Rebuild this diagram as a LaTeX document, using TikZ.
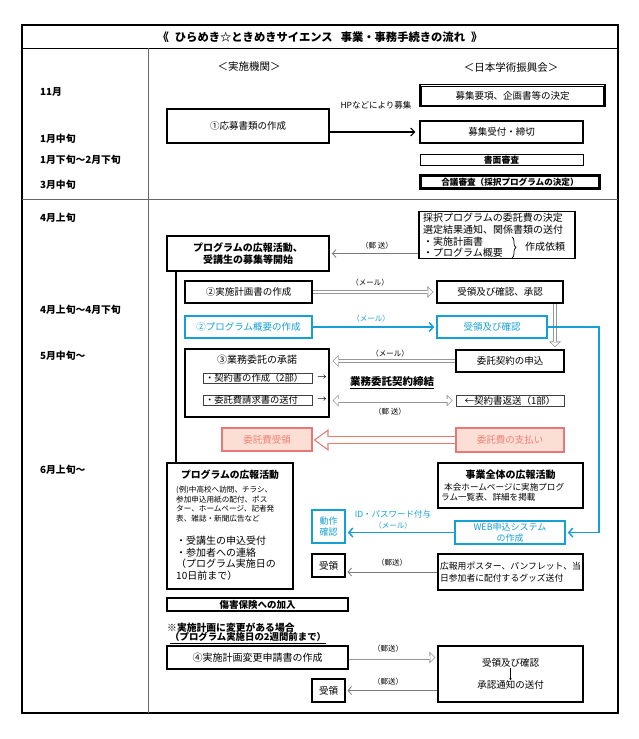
\documentclass[tikz,border=0pt]{standalone}
\usepackage{fontspec}
\setmainfont{Noto Sans CJK JP}
\usetikzlibrary{arrows.meta,decorations.pathreplacing}
\pgfdeclarelayer{bg}
\pgfsetlayers{bg,main}
\definecolor{jblue}{RGB}{20,160,215}
\definecolor{pinkfill}{RGB}{251,222,212}
\definecolor{pinkline}{RGB}{232,120,120}
\definecolor{pinktext}{RGB}{240,128,118}
\definecolor{hgray}{RGB}{150,150,150}
\definecolor{lgray}{RGB}{120,120,120}
\newcommand{\jsz}[1]{\fontsize{#1}{#1}\selectfont}
\tikzset{
  every node/.style={inner sep=0pt},
  bx/.style={draw=black, line width=1.1pt, fill=white, inner sep=0pt, font=\jsz{9.5}},
  tbx/.style={bx, line width=2pt},
  thbx/.style={draw=black!75, line width=0.6pt, fill=white, inner sep=0pt},
  dbx/.style={draw=black, line width=1.3pt, fill=white, inner sep=0pt},
  inbox/.style={draw=black, line width=0.6pt},
  blbx/.style={draw=jblue, line width=1.6pt, fill=white, text=jblue, inner sep=0pt, font=\jsz{9.5}},
  pkbx/.style={draw=pinkline, line width=1.3pt, fill=pinkfill, text=pinktext, inner sep=0pt, font=\jsz{9.5}},
  lbl/.style={font=\jsz{7.5}, inner sep=0pt},
  mon/.style={anchor=west, font=\bfseries\jsz{9.8}, inner sep=0pt},
  hollow/.style={draw=hgray, line width=4pt, shorten >=#1,
     -{Triangle[length=6pt,width=12pt,line width=0pt]},
     postaction={draw=white, line width=2.4pt, shorten >=#1+1.13pt,
       -{Triangle[length=4.07pt,width=8.1pt,line width=0pt]}}},
  hollow/.default=0pt,
  hollowboth/.style={draw=hgray, line width=4pt, shorten >=#1, shorten <=#1,
     {Triangle[length=6pt,width=12pt,line width=0pt]}-{Triangle[length=6pt,width=12pt,line width=0pt]},
     postaction={draw=white, line width=2.4pt, shorten >=#1+1.13pt, shorten <=#1+1.13pt,
       {Triangle[length=4.07pt,width=8.1pt,line width=0pt]}-{Triangle[length=4.07pt,width=8.1pt,line width=0pt]}}},
  hollowboth/.default=0pt,
  pkarrow/.style={draw=pinkline, line width=8.5pt, shorten >=#1,
     -{Triangle[length=15pt,width=22pt,line width=0pt]},
     postaction={draw=white, line width=6pt, shorten >=#1+2pt,
       -{Triangle[length=11.8pt,width=17.3pt,line width=0pt]}}},
  pkarrow/.default=0pt,
  thinarr/.style={draw=lgray, line width=0.8pt, shorten >=#1, -{Straight Barb[length=3.5pt,width=8pt]}},
  thinarr/.default=1pt,
  bluearr/.style={draw=jblue, line width=1.5pt, shorten >=2pt, -{Straight Barb[length=4pt,width=9pt]}},
  blackarr/.style={draw=black, line width=1.2pt, shorten >=4pt, -{Straight Barb[length=4pt,width=8pt]}},
}
\begin{document}
\begin{tikzpicture}[x=1pt,y=-1pt]
\useasboundingbox (0,0) rectangle (639,739);
% frame
\draw[line width=1.5pt] (22,25) rectangle (618,713);
\draw[line width=0.9pt] (22,48) -- (618,48);
\draw[line width=0.8pt, black!60] (148,48) -- (148,713);
\draw[line width=0.8pt, black!60] (22,199) -- (618,199);
\node[font=\bfseries\jsz{11.3}] (title) at (320,37) {《\hspace{6pt}ひらめき☆ときめきサイエンス\hspace{8pt}事業・事務手続きの流れ\hspace{6pt}》};
\node[font=\jsz{10.5}] (h1) at (249,67) {＜実施機関＞};
\node[font=\jsz{10.5}] (h2) at (511,67) {＜日本学術振興会＞};
% months
\node[mon] (m1) at (40,92) {11月};
\node[mon] (m2) at (40,139) {1月中旬};
\node[mon] (m3) at (40,160) {1月下旬～2月下旬};
\node[mon] (m4) at (40,185) {3月中旬};
\node[mon] (m5) at (40,218) {4月上旬};
\node[mon] (m6) at (40,310) {4月上旬～4月下旬};
\node[mon] (m7) at (40,356) {5月中旬～};
\node[mon] (m8) at (40,470) {6月上旬～};
% section 1
\node[bx, minimum width=162pt, minimum height=34pt] (app) at (248,126) {①応募書類の作成};
\node[dbx, minimum width=185pt, minimum height=22pt, font=\jsz{9.5}] (yk) at (512.5,95.5) {募集要項、企画書等の決定};
\draw[inbox] ([shift={(2.2pt,-2.2pt)}]yk.north west) rectangle ([shift={(-2.2pt,2.2pt)}]yk.south east);
\node[bx, minimum width=163pt, minimum height=22pt] (uk) at (501.5,132) {募集受付・締切};
\node[bx, line width=1pt, minimum width=163pt, minimum height=11.5pt, font=\bfseries\jsz{8.8}] (sm) at (501.5,160) {書面審査};
\node[dbx, minimum width=180pt, minimum height=14pt, font=\bfseries\jsz{8.6}] (gg) at (510,182) {合議審査（採択プログラムの決定）};
\draw[inbox] ([shift={(2pt,-2pt)}]gg.north west) rectangle ([shift={(-2pt,2pt)}]gg.south east);
\node[font=\jsz{8.5}] (hp) at (376,105) {HPなどにより募集};
% section 2
\node[tbx, minimum width=162pt, minimum height=35pt, align=center, font=\bfseries\fontsize{10}{12}\selectfont] (kh1) at (248,253.5) {プログラムの広報活動、\\受講生の募集等開始};
\node[bx, minimum width=156pt, minimum height=47pt] (st) at (497,235) {};
\node[anchor=west, font=\jsz{10}] (st1) at (423,218) {採択プログラムの委託費の決定};
\node[anchor=west, font=\jsz{10}] (st2) at (423,230) {選定結果通知、関係書類の送付};
\node[anchor=west, font=\jsz{10}] (st3) at (423,242) {・実施計画書};
\node[anchor=west, font=\jsz{10}] (st4) at (423,253) {・プログラム概要};
\coordinate (brx) at (512,0);
\draw[decorate, decoration={brace, amplitude=4pt}, line width=0.7pt] (st3.north -| brx) -- (st4.south -| brx);
\node[anchor=west, font=\jsz{10}] (sakusei) at (525,247) {作成依頼};
\node[lbl] (l1) at (377,246) {（郵\ 送）};

\node[bx, minimum width=127pt, minimum height=22pt] (plan) at (248.5,292) {②実施計画書の作成};
\node[bx, minimum width=126pt, minimum height=22pt] (ur1) at (500,292) {受領及び確認、承認};
\node[lbl] (l2) at (370,283) {（メール）};
\node[blbx, minimum width=127pt, minimum height=22pt] (gy) at (248.5,327) {②プログラム概要の作成};
\node[blbx, minimum width=110pt, minimum height=22pt] (ur2) at (492,327) {受領及び確認};
\node[lbl, text=jblue] (l3) at (371,319) {（メール）};

\node[bx, minimum width=144pt, minimum height=68pt] (sd) at (257,383) {};
\node[font=\jsz{10}] (sdt) at (257,360) {③業務委託の承諾};
\node[thbx, text width=105pt, align=left, inner xsep=2pt, minimum height=10pt, font=\jsz{9.3}] (sub1) at (257.5,378) {・契約書の作成（2部）};
\node[thbx, text width=105pt, align=left, inner xsep=2pt, minimum height=10pt, font=\jsz{9.3}] (sub2) at (257.5,400) {・委託費請求書の送付};
\node[font=\jsz{9}] (ar1) at (322,378) {→};
\node[font=\jsz{9}] (ar2) at (322,400) {→};
\node[bx, minimum width=108pt, minimum height=22pt] (ms) at (510,361) {委託契約の申込};
\node[lbl] (l4) at (390,354) {（メール）};
\node[font=\bfseries\jsz{10.5}] (kk) at (392,383) {\underline{業務委託契約締結}};
\node[thbx, minimum width=108pt, minimum height=11pt, font=\jsz{9.5}] (hs) at (510,400.5) {←契約書返送（1部）};
\node[lbl] (l5) at (390,412) {（郵\ 送）};
\node[pkbx, minimum width=90pt, minimum height=23pt] (pj) at (267,439.5) {委託費受領};
\node[pkbx, minimum width=108pt, minimum height=24pt] (sp) at (510,440) {委託費の支払い};
\coordinate (vx) at (555,0);
\coordinate (vl) at (176,0);
\coordinate (bc) at (599,0);

% section 3
\node[tbx, minimum width=126pt, minimum height=126pt] (kh2) at (230,526) {};
\node[font=\bfseries\jsz{9.8}] (kh2t) at (230,475) {プログラムの広報活動};
\node[anchor=north west, align=left, font=\fontsize{7.6}{9.7}\selectfont] (kh2a) at (176,486) {(例)中高校へ訪問、チラシ、\\参加申込用紙の配付、ポス\\ター、ホームページ、記者発\\表、雑誌・新聞広告など};
\node[anchor=north west, align=left, font=\fontsize{10}{11.5}\selectfont] (kh2b) at (176,536) {・受講生の申込受付\\・参加者への連絡\\（プログラム実施日の\\10日前まで）};

\node[tbx, minimum width=145pt, minimum height=45pt] (zt) at (510.5,485.5) {};
\node[font=\bfseries\jsz{10}] (ztt) at (510.5,475) {事業全体の広報活動};
\node[anchor=north west, align=left, font=\fontsize{8.6}{10}\selectfont] (zta) at (441,483) {\hspace*{3pt}本会ホームページに実施プログ\\ラム一覧表、詳細を掲載};

\node[blbx, minimum width=33pt, minimum height=33pt, align=center, font=\fontsize{9}{11}\selectfont] (dosa) at (328.5,526.5) {動作\\確認};
\node[blbx, minimum width=110pt, minimum height=23pt, align=center, font=\fontsize{9}{11}\selectfont] (web) at (510,532.5) {WEB申込システム\\の作成};
\node[font=\jsz{8.5}, text=jblue] (l6) at (393,514) {ID・パスワード付与};
\node[lbl, text=jblue] (l7) at (393,526) {（メール）};

\node[bx, minimum width=33pt, minimum height=23pt] (jr1) at (328.5,565.5) {受領};
\node[bx, minimum width=145pt, minimum height=36pt, align=left, font=\fontsize{8.8}{11.5}\selectfont] (ps) at (510.5,572) {広報用ポスター、パンフレット、当\\日参加者に配付するグッズ送付};
\node[lbl] (l8) at (392,563) {（郵送）};

\node[bx, minimum width=181pt, minimum height=13pt, font=\bfseries\jsz{9.5}] (hoken) at (257.5,604.5) {傷害保険への加入};
\node[anchor=west, font=\bfseries\jsz{9.8}] (n1) at (167,628) {※実施計画に変更がある場合};
\node[anchor=west, font=\bfseries\jsz{9.4}] (n2) at (170,638) {\underline{（プログラム実施日の2週間前まで）}};
\node[tbx, minimum width=181pt, minimum height=23pt, font=\jsz{10}] (hk) at (257.5,657.5) {④実施計画変更申請書の作成};
\node[bx, minimum width=145pt, minimum height=56pt] (sn) at (510.5,674) {};
\node[font=\jsz{9.5}] (sn1) at (510.5,663) {受領及び確認};
\node[font=\jsz{9.5}] (sn2) at (510.5,685) {承認通知の送付};
\draw[line width=0.8pt, -{Latex[length=2pt,width=2.5pt]}] (sn1.south) -- (sn2.north);
\node[lbl] (l9) at (388,649) {（郵送）};
\node[bx, minimum width=33pt, minimum height=23pt] (jr2) at (328.5,690.5) {受領};
\node[lbl] (l10) at (388,682) {（郵送）};

\begin{pgfonlayer}{bg}
\draw[blackarr] (app.east |- uk.west) -- (uk.west);
\draw[thinarr=2pt] (st.west |- kh1.east) -- (kh1.east);
\draw[hollow=3pt] (plan.east) -- (ur1.west);
\draw[bluearr] (gy.east) -- (ur2.west);
\draw[hollow=2pt] (ur1.south -| vx) -- (ms.north -| vx);
\draw[hollow=3pt] (ms.west) -- (ms.west -| sd.east);
\draw[hollowboth=3pt] (hs.west -| sd.east) -- (hs.west);
\draw[pkarrow=1pt] (sp.west) -- (sp.west -| pj.east);
\draw[line width=2pt] (kh1.south -| vl) -- (kh2.north -| vl);
\draw[bluearr] (ur2.east) -- (ur2.east -| bc) -- (web.east -| bc) -- (web.east);
\draw[bluearr] (web.west) -- (web.west -| dosa.east);
\draw[thinarr=2pt] (ps.west) -- (ps.west -| jr1.east);
\draw[hollow=2pt] (hk.east) -- (hk.east -| sn.west);
\draw[thinarr=2pt] (jr2.east -| sn.west) -- (jr2.east);
\end{pgfonlayer}
\end{tikzpicture}
\end{document}
